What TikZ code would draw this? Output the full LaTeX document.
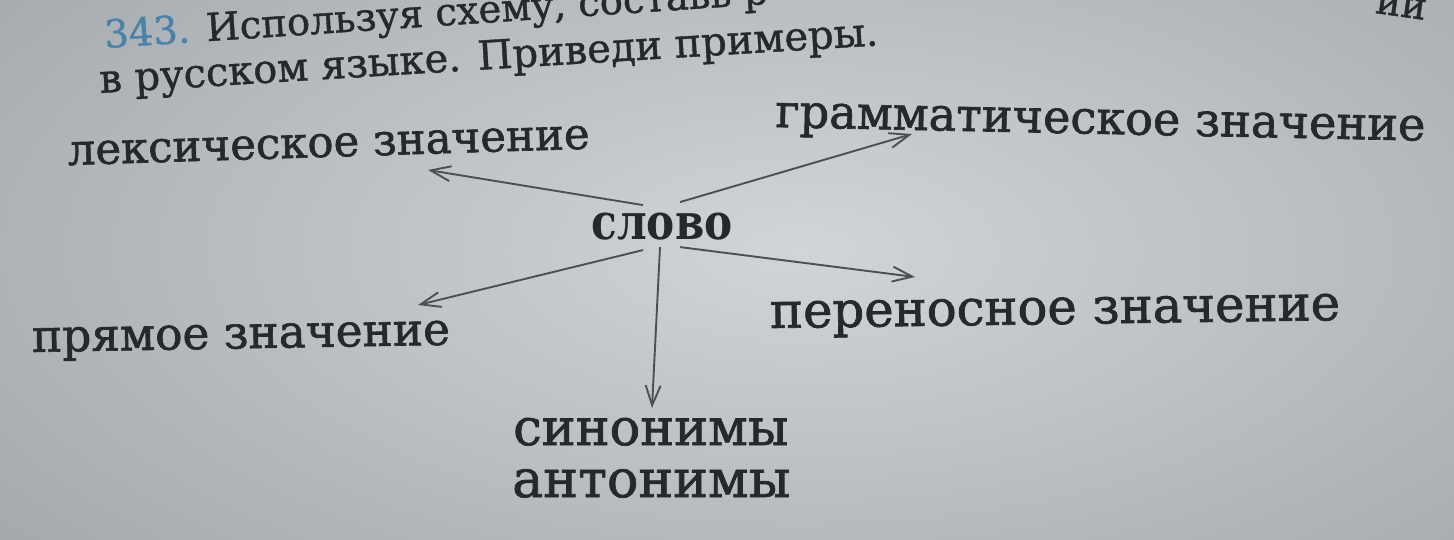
\documentclass[tikz,border=0pt]{standalone}
\usepackage{fontspec}
\setmainfont{DejaVu Serif}
\newfontface\labf[FakeBold=1.4]{DejaVu Serif}
\newfontface\hdrf[FakeBold=1]{DejaVu Serif}
\usetikzlibrary{arrows.meta,calc}
\definecolor{ink}{HTML}{26282A}
\definecolor{lineg}{HTML}{4C5054}
\definecolor{bgin}{HTML}{D0D5D8}
\definecolor{bgout}{HTML}{979DA1}
\definecolor{numblue}{HTML}{4A82A8}
\newcommand{\fitw}[2]{\resizebox{#1}{!}{#2}}
\begin{document}
\begin{tikzpicture}[x=1pt,y=-1pt,
  lbl/.style={inner sep=0pt, text=ink, font=\fontsize{44}{44}\labf},
  bold lbl/.style={inner sep=0pt, text=ink, font=\fontsize{44}{44}\selectfont\bfseries},
  hdr/.style={inner sep=0pt, text=ink, font=\fontsize{38}{38}\hdrf},
  arr/.style={draw=lineg, line width=1.9pt, -{Straight Barb[length=20pt,width=15pt,line width=1.9pt]}}]
\useasboundingbox (0,0) rectangle (1454,539);
\clip (0,0) rectangle (1454,539);
\shade[inner color=bgin, outer color=bgout] (-500,-350) rectangle (2100,850);

% header
\node[hdr, anchor=base west, rotate=3.8] (h1) at (105,48) {\fitw{665pt}{\textcolor{numblue}{343.} Используя схему, составь р}};
\node[hdr, anchor=base west, rotate=3.5] (h2) at (100,93) {\fitw{780pt}{в русском языке. Приведи примеры.}};
\node[hdr, anchor=base east, rotate=-8] (h3) at (1425,20) {ии};

% labels
\node[lbl, anchor=base west, rotate=1.8] (lex) at (68,165) {\fitw{522pt}{лексическое значение}};
\node[lbl, anchor=base west, rotate=-1.2] (gram) at (775,127) {\fitw{650pt}{грамматическое значение}};
\node[lbl, anchor=base west, rotate=1] (pryam) at (32,352) {\fitw{418pt}{прямое значение}};
\node[lbl, anchor=base west, rotate=0.8] (pere) at (770,328) {\fitw{570pt}{переносное значение}};
\node[bold lbl, anchor=base] (slovo) at (662,239) {\fitw{141pt}{\scalebox{1}[1.18]{слово}}};
\node[lbl, anchor=base west] (sin) at (513,445) {\fitw{275pt}{синонимы}};
\node[lbl, anchor=base west] (ant) at (512,497) {\fitw{278pt}{антонимы}};

% arrow tips
\coordinate (tlex) at (428,170);
\coordinate (tgram) at (912,134);
\coordinate (tpryam) at (418,305);
\coordinate (tpere) at (915,277);
\coordinate (tsin) at (652,408);

\draw[arr] ($(slovo.center)+(-19,-21)$) -- (tlex);
\draw[arr] ($(slovo.center)+(18,-24)$) -- (tgram);
\draw[arr] ($(slovo.center)+(-19,24)$) -- (tpryam);
\draw[arr] ($(slovo.center)+(18,21)$) -- (tpere);
\draw[arr] ($(slovo.center)+(-2,21)$) -- (tsin);
\end{tikzpicture}
\end{document}
